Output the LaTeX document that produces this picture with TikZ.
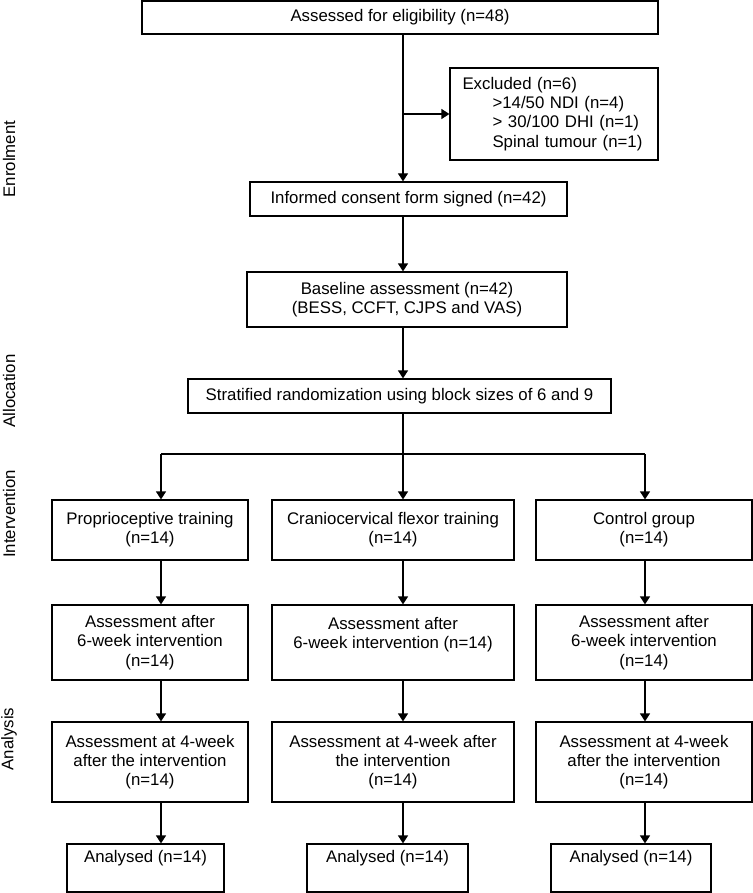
\documentclass[tikz,border=0pt]{standalone}
\usepackage{fontspec}
\setmainfont{Liberation Sans}
\usetikzlibrary{arrows.meta}

\tikzset{
  box/.style={draw, line width=0.6pt, inner sep=2pt, align=center},
  arr/.style={line width=0.6pt, -{Triangle[length=4pt, width=5pt]}},
  phase/.style={rotate=90, anchor=center}
}

\begin{document}
\begin{tikzpicture}[x=0.5pt, y=-0.5pt]
\fontsize{8.4}{9.6}\selectfont
\useasboundingbox (0,0) rectangle (753,893);

% columns of the flow
\coordinate (trunk) at (403,0);
\coordinate (c1) at (161,0);
\coordinate (c2) at (403,0);
\coordinate (c3) at (645,0);

% phase labels
\node[phase] (enrol) at (9,159) {Enrolment};
\node[phase] (alloc) at (9,391) {Allocation};
\node[phase] (interv) at (9,514) {Intervention};
\node[phase] (analys) at (9,739) {Analysis};

% enrolment
\node[box, minimum width=258pt, minimum height=16.5pt] (elig) at (400,17.5) {Assessed for eligibility (n=48)};
\node[box, minimum width=104pt, minimum height=46pt, text width=91.5pt, align=left] (excl) at (554,114)
  {Excluded (n=6)\\
   \hspace*{15pt}>14/50 NDI (n=4)\\
   \hspace*{15pt}> 30/100 DHI (n=1)\\
   \hspace*{15pt}Spinal tumour (n=1)};
\node[box, minimum width=158.5pt, minimum height=17pt] (consent) at (408.5,199) {Informed consent form signed (n=42)};
\node[box, minimum width=160pt, minimum height=27.5pt] (base) at (407,299.5) {Baseline assessment (n=42)\\(BESS, CCFT, CJPS and VAS)};

% allocation
\node[box, minimum width=211.5pt, minimum height=17pt] (strat) at (399.5,396) {Stratified randomization using block sizes of 6 and 9};

% intervention
\node[box, minimum width=98pt, minimum height=30pt] (prop) at (150,530) {Proprioceptive training\\(n=14)};
\node[box, minimum width=121pt, minimum height=30pt] (cran) at (393,530) {Craniocervical flexor training\\(n=14)};
\node[box, minimum width=108pt, minimum height=30pt] (ctrl) at (644,530) {Control group\\(n=14)};

\node[box, minimum width=98pt, minimum height=37.5pt] (postA) at (150,642.5) {Assessment after\\6-week intervention\\(n=14)};
\node[box, minimum width=121pt, minimum height=37.5pt] (postB) at (393,642.5) {Assessment after\\6-week intervention (n=14)\\\mbox{}};
\node[box, minimum width=108pt, minimum height=37.5pt] (postC) at (644,642.5) {Assessment after\\6-week intervention\\(n=14)};

% analysis
\node[box, minimum width=98pt, minimum height=40pt] (fuA) at (150,762) {Assessment at 4-week\\after the intervention\\(n=14)};
\node[box, minimum width=121pt, minimum height=40pt] (fuB) at (393,762) {Assessment at 4-week after\\the intervention\\(n=14)};
\node[box, minimum width=108pt, minimum height=40pt] (fuC) at (644,762) {Assessment at 4-week\\after the intervention\\(n=14)};

\node[box, minimum width=78.5pt, minimum height=24pt] (anA) at (145.5,868) {Analysed (n=14)\\[2pt]};
\node[box, minimum width=80.5pt, minimum height=24pt] (anB) at (387.5,868) {Analysed (n=14)\\[2pt]};
\node[box, minimum width=80pt, minimum height=24pt] (anC) at (631,868) {Analysed (n=14)\\[2pt]};

% connectors
\draw[arr] (elig.south -| trunk) -- (consent.north -| trunk);
\draw[arr] (trunk |- excl.west) -- (excl.west);
\draw[arr] (consent.south -| trunk) -- (base.north -| trunk);
\draw[arr] (base.south -| trunk) -- (strat.north -| trunk);
\draw[line width=0.6pt] (strat.south -| trunk) -- (403,454) coordinate (split);
\draw[line width=0.6pt] (split -| c1) -- (split -| c3);
\draw[arr] (split -| c1) -- (prop.north -| c1);
\draw[arr] (split -| c2) -- (cran.north -| c2);
\draw[arr] (split -| c3) -- (ctrl.north -| c3);

\draw[arr] (prop.south -| c1) -- (postA.north -| c1);
\draw[arr] (cran.south -| c2) -- (postB.north -| c2);
\draw[arr] (ctrl.south -| c3) -- (postC.north -| c3);

\draw[arr] (postA.south -| c1) -- (fuA.north -| c1);
\draw[arr] (postB.south -| c2) -- (fuB.north -| c2);
\draw[arr] (postC.south -| c3) -- (fuC.north -| c3);

\draw[arr] (fuA.south -| c1) -- (anA.north -| c1);
\draw[arr] (fuB.south -| c2) -- (anB.north -| c2);
\draw[arr] (fuC.south -| c3) -- (anC.north -| c3);

\end{tikzpicture}
\end{document}
